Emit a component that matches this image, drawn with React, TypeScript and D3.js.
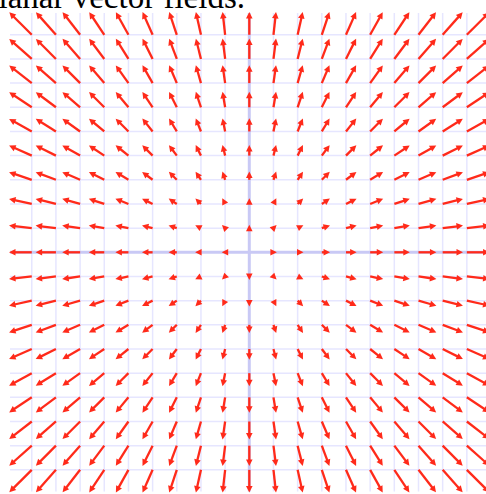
import React from "react";
import * as d3 from "d3";

// Grid sample points (data units)
const gridX = [-9, -8, -7, -6, -5, -4, -3, -2, -1, 0, 1, 2, 3, 4, 5, 6, 7, 8, 9];
const gridY = [-9, -8, -7, -6, -5, -4, -3, -2, -1, 0, 1, 2, 3, 4, 5, 6, 7, 8, 9];
// Grid line positions (data units)
const gridLines = [-9, -8, -7, -6, -5, -4, -3, -2, -1, 1, 2, 3, 4, 5, 6, 7, 8, 9];
const axisLines = [0];
// Vector field F(x, y) = (x, y), drawn at 0.1 scale
const field = (x: number, y: number): [number, number] => [x, y];
const arrowScale = 0.1;
const title = "Planar vector fields.";

const W = 486;
const H = 494;

export default function App() {
  const cx = 249.3;
  const cy = 252.3;
  const cell = 24.17;
  const x = d3.scaleLinear().domain([-1, 1]).range([cx - cell, cx + cell]);
  const y = d3.scaleLinear().domain([-1, 1]).range([cy + cell, cy - cell]);
  const ext = 9.9;

  const headLen = 6.5;
  const headHalf = 3.3;
  const red = "#ff2a1a";

  const arrows: React.ReactNode[] = [];
  gridX.forEach((gx) => {
    gridY.forEach((gy) => {
      const [u, v] = field(gx, gy);
      if (u === 0 && v === 0) return;
      const x0 = x(gx);
      const y0 = y(gy);
      const x1 = x(gx + u * arrowScale);
      const y1 = y(gy + v * arrowScale);
      const dx = x1 - x0;
      const dy = y1 - y0;
      const len = Math.hypot(dx, dy);
      const ux = dx / len;
      const uy = dy / len;
      const tipX = x1 + ux * 1;
      const tipY = y1 + uy * 1;
      const bx = tipX - ux * headLen;
      const by = tipY - uy * headLen;
      const px = -uy;
      const py = ux;
      const head = d3.path();
      head.moveTo(tipX, tipY);
      head.lineTo(bx + px * headHalf, by + py * headHalf);
      head.lineTo(bx - px * headHalf, by - py * headHalf);
      head.closePath();
      const lineEndX = tipX - ux * (headLen - 1);
      const lineEndY = tipY - uy * (headLen - 1);
      arrows.push(
        <g key={`${gx}_${gy}`}>
          {len > headLen - 1 && (
            <line x1={x0} y1={y0} x2={lineEndX} y2={lineEndY} stroke={red} strokeWidth={2.3} />
          )}
          <path d={head.toString()} fill={red} />
        </g>
      );
    });
  });

  return (
    <svg
      width={W}
      height={H}
      style={{ position: "absolute", left: 0, top: 0, overflow: "hidden" }}
    >
      <rect width={W} height={H} fill="#fff" />
      <g>
        {gridLines.map((g) => (
          <line key={`v${g}`} x1={x(g)} x2={x(g)} y1={y(-ext)} y2={y(ext)} stroke="#e6e6ff" strokeWidth={1.5} />
        ))}
        {gridLines.map((g) => (
          <line key={`h${g}`} x1={x(-ext)} x2={x(ext)} y1={y(g)} y2={y(g)} stroke="#e6e6ff" strokeWidth={1.5} />
        ))}
        {axisLines.map((g) => (
          <g key={`a${g}`}>
            <line x1={x(g)} x2={x(g)} y1={y(-ext)} y2={y(ext)} stroke="#c9c9f5" strokeWidth={3} />
            <line x1={x(-ext)} x2={x(ext)} y1={y(g)} y2={y(g)} stroke="#c9c9f5" strokeWidth={3} />
          </g>
        ))}
      </g>
      <g>{arrows}</g>
      <text
        x={245}
        y={8}
        textAnchor="end"
        fontFamily="'Liberation Serif', 'Times New Roman', serif"
        fontSize={33}
        fill="#000"
      >
        {title}
      </text>
    </svg>
  );
}
